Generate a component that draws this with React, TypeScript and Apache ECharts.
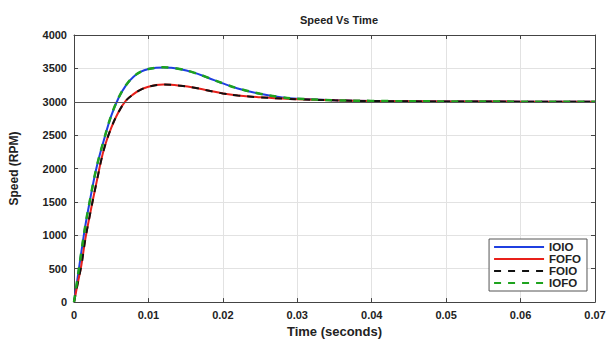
import React, { useEffect, useRef } from "react";
import * as echarts from "echarts";

const timeSec = [0, 0.0005, 0.001, 0.0015, 0.002, 0.003, 0.004, 0.005, 0.006, 0.007, 0.008, 0.009, 0.01, 0.011, 0.012, 0.013, 0.014, 0.016, 0.018, 0.02, 0.022, 0.025, 0.028, 0.03, 0.035, 0.04, 0.05, 0.06, 0.07];
const ioio = [0, 375, 760, 1130, 1440, 2000, 2420, 2790, 3060, 3250, 3375, 3450, 3490, 3508, 3515, 3510, 3495, 3440, 3360, 3275, 3200, 3120, 3065, 3045, 3022, 3012, 3005, 3002, 3001];
const fofo = [0, 280, 560, 930, 1230, 1780, 2280, 2610, 2850, 3020, 3115, 3185, 3225, 3250, 3258, 3255, 3245, 3215, 3170, 3125, 3095, 3068, 3048, 3038, 3022, 3012, 3005, 3002, 3001];
const foio = [0, 278, 557, 927, 1227, 1777, 2277, 2608, 2848, 3018, 3113, 3183, 3223, 3249, 3257, 3254, 3244, 3214, 3169, 3124, 3094, 3067, 3047, 3037, 3021, 3011, 3004, 3002, 3001];
const iofo = [0, 378, 763, 1133, 1443, 2003, 2423, 2793, 3062, 3252, 3377, 3452, 3492, 3509, 3516, 3511, 3496, 3441, 3361, 3276, 3201, 3121, 3066, 3046, 3023, 3013, 3005, 3002, 3001];
const refSpeed = 3000;
const xTicks = [0, 0.01, 0.02, 0.03, 0.04, 0.05, 0.06, 0.07];
const yTicks = [0, 500, 1000, 1500, 2000, 2500, 3000, 3500, 4000];

const pair = (vals: number[]) => timeSec.map((t, i) => [t, vals[i]]);

export default function App() {
  const ref = useRef<HTMLDivElement>(null);
  useEffect(() => {
    document.body.style.margin = "0";
    const chart = echarts.init(ref.current!, undefined, { renderer: "svg" });
    const font = "Arial, 'Liberation Sans', sans-serif";
    const axisLineStyle = { color: "#444", width: 1 };
    const tickStyle = { inside: true, length: 4, lineStyle: { color: "#444" } };
    const labelStyle = { color: "#222", fontSize: 11, fontWeight: "bold" as const, fontFamily: font };
    const xBase = { type: "value" as const, min: xTicks[0], max: xTicks[xTicks.length - 1], interval: 0.01 };
    const yBase = { type: "value" as const, min: yTicks[0], max: yTicks[yTicks.length - 1], interval: 500 };
    chart.setOption({
      animation: false,
      backgroundColor: "#fff",
      title: {
        text: "Speed Vs Time",
        left: 334,
        textAlign: "center",
        top: 9,
        textStyle: { fontSize: 11, fontWeight: "bold", color: "#222", fontFamily: font },
      },
      grid: { left: 73, right: 18, top: 35, bottom: 35 },
      legend: {
        orient: "vertical",
        right: 26,
        top: 239,
        padding: [2, 6, 2, 4],
        itemWidth: 50,
        itemHeight: 10,
        itemGap: 0,
        backgroundColor: "#fff",
        borderColor: "#555",
        borderWidth: 1,
        borderRadius: 0,
        itemStyle: { opacity: 0 },
        data: ["IOIO", "FOFO", "FOIO", "IOFO"],
        textStyle: { fontSize: 11.5, fontWeight: "bold", color: "#222", fontFamily: font },
      },
      xAxis: [
        {
          ...xBase,
          position: "bottom",
          name: "Time (seconds)",
          nameLocation: "middle",
          nameGap: 18,
          nameTextStyle: { fontSize: 13, fontWeight: "bold", color: "#222", fontFamily: font },
          axisLine: { show: true, onZero: false, lineStyle: axisLineStyle },
          axisTick: tickStyle,
          axisLabel: { ...labelStyle, margin: 7, formatter: (v: number) => (v === 0 ? "0" : v.toFixed(2)) },
          splitLine: { show: true, lineStyle: { color: "#e2e2e2" } },
        },
        {
          ...xBase,
          position: "top",
          axisLine: { show: true, onZero: false, lineStyle: axisLineStyle },
          axisTick: tickStyle,
          axisLabel: { show: false },
          splitLine: { show: false },
        },
      ],
      yAxis: [
        {
          ...yBase,
          position: "left",
          name: "Speed (RPM)",
          nameLocation: "middle",
          nameGap: 54,
          nameTextStyle: { fontSize: 12, fontWeight: "bold", color: "#222", fontFamily: font },
          axisLine: { show: true, onZero: false, lineStyle: axisLineStyle },
          axisTick: tickStyle,
          axisLabel: { ...labelStyle, margin: 7, formatter: (v: number) => String(v) },
          splitLine: { show: true, lineStyle: { color: "#e2e2e2" } },
        },
        {
          ...yBase,
          position: "right",
          axisLine: { show: true, onZero: false, lineStyle: axisLineStyle },
          axisTick: tickStyle,
          axisLabel: { show: false },
          splitLine: { show: false },
        },
      ],
      series: [
        {
          name: "IOIO",
          type: "line",
          data: pair(ioio),
          smooth: 0.4,
          symbol: "none",
          lineStyle: { color: "#1f3fe0", width: 2 },
          itemStyle: { color: "#1f3fe0" },
          markLine: {
            silent: true,
            symbol: "none",
            label: { show: false },
            lineStyle: { color: "#555", width: 1, type: "solid" },
            data: [{ yAxis: refSpeed }],
          },
        },
        {
          name: "FOFO",
          type: "line",
          data: pair(fofo),
          smooth: 0.4,
          symbol: "none",
          lineStyle: { color: "#e8201a", width: 2 },
          itemStyle: { color: "#e8201a" },
        },
        {
          name: "FOIO",
          type: "line",
          data: pair(foio),
          smooth: 0.4,
          symbol: "none",
          lineStyle: { color: "#111", width: 2, type: [7, 7] },
          itemStyle: { color: "#111" },
        },
        {
          name: "IOFO",
          type: "line",
          data: pair(iofo),
          smooth: 0.4,
          symbol: "none",
          lineStyle: { color: "#1ea31e", width: 2.5, type: [7, 7] },
          itemStyle: { color: "#1ea31e" },
        },
      ],
    });
    return () => chart.dispose();
  }, []);
  return <div ref={ref} style={{ width: 613, height: 343 }} />;
}
